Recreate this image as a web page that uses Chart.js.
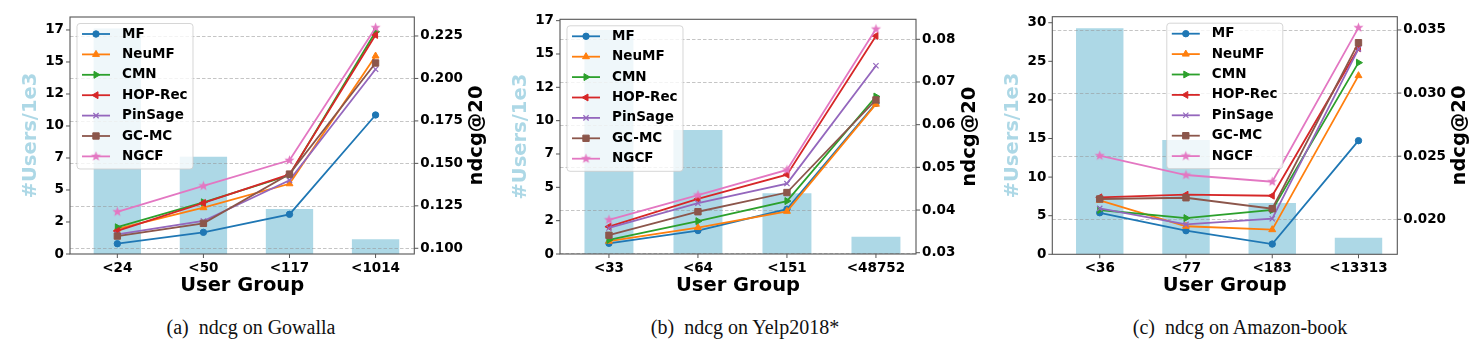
<!DOCTYPE html>
<html>
<head>
<meta charset="utf-8">
<script src="https://cdn.jsdelivr.net/npm/chart.js@4.4.1/dist/chart.umd.min.js"></script>
<style>
  body { margin: 0; background: #fff; width: 1481px; height: 349px; position: relative; overflow: hidden; }
  canvas { position: absolute; top: 0; }
  .cap { position: absolute; top: 316px; font-family: "Liberation Serif", "DejaVu Serif", serif; font-size: 20px; color: #111;
         transform: translateX(-50%); white-space: pre; }
</style>
</head>
<body>
<canvas id="cGowalla" width="495" height="300" style="left:0px"></canvas>
<canvas id="cYelp" width="500" height="300" style="left:490px"></canvas>
<canvas id="cAmazon" width="491" height="300" style="left:990px"></canvas>
<div class="cap" style="left:251px">(a)  ndcg on Gowalla</div>
<div class="cap" style="left:745px">(b)  ndcg on Yelp2018*</div>
<div class="cap" style="left:1240px">(c)  ndcg on Amazon-book</div>

<script>
// ---- data ----
const methods = ['MF', 'NeuMF', 'CMN', 'HOP-Rec', 'PinSage', 'GC-MC', 'NGCF'];
const colors  = ['#1f77b4', '#ff7f0e', '#2ca02c', '#d62728', '#9467bd', '#8c564b', '#e377c2'];

// (a) Gowalla
const groupsGowalla = ['<24', '<50', '<117', '<1014'];
const usersGowalla  = [17.55, 7.57, 3.50, 1.15];              // #users / 1e3
const mfGowalla      = [0.1027, 0.1094, 0.1200, 0.1785];
const neumfGowalla   = [0.1114, 0.1239, 0.1380, 0.2132];
const cmnGowalla     = [0.1124, 0.1271, 0.1430, 0.2275];
const hopGowalla     = [0.1102, 0.1267, 0.1435, 0.2256];
const pinsageGowalla = [0.1082, 0.1161, 0.1400, 0.2054];
const gcmcGowalla    = [0.1072, 0.1147, 0.1437, 0.2091];
const ngcfGowalla    = [0.1215, 0.1367, 0.1518, 0.2299];
const leftTicksGowalla  = [0, 2.49, 4.98, 7.47, 9.96, 12.45, 14.94, 17.43];
const leftLabelsGowalla = ['0', '2', '5', '7', '10', '12', '15', '17'];
const rightTicksGowalla  = [0.100, 0.125, 0.150, 0.175, 0.200, 0.225];
const rightLabelsGowalla = ['0.100', '0.125', '0.150', '0.175', '0.200', '0.225'];

// (b) Yelp2018*
const groupsYelp = ['<33', '<64', '<151', '<48752'];
const usersYelp  = [16.6, 9.19, 4.50, 1.28];
const mfYelp      = [0.0322, 0.0352, 0.0402, 0.0650];
const neumfYelp   = [0.0327, 0.0359, 0.0397, 0.0648];
const cmnYelp     = [0.0330, 0.0374, 0.0421, 0.0666];
const hopYelp     = [0.0361, 0.0426, 0.0483, 0.0808];
const pinsageYelp = [0.0358, 0.0416, 0.0462, 0.0738];
const gcmcYelp    = [0.0341, 0.0396, 0.0441, 0.0658];
const ngcfYelp    = [0.0377, 0.0435, 0.0494, 0.0824];
const leftTicksYelp  = [0, 2.47, 4.94, 7.41, 9.88, 12.35, 14.82, 17.29];
const leftLabelsYelp = ['0', '2', '5', '7', '10', '12', '15', '17'];
const rightTicksYelp  = [0.03, 0.04, 0.05, 0.06, 0.07, 0.08];
const rightLabelsYelp = ['0.03', '0.04', '0.05', '0.06', '0.07', '0.08'];

// (c) Amazon-book
const groupsAmazon = ['<36', '<77', '<183', '<13313'];
const usersAmazon  = [29.27, 14.8, 6.65, 2.15];
const mfAmazon      = [0.02052, 0.01910, 0.01804, 0.02623];
const neumfAmazon   = [0.02151, 0.01945, 0.01918, 0.03138];
const cmnAmazon     = [0.02074, 0.02010, 0.02074, 0.03241];
const hopAmazon     = [0.02174, 0.02195, 0.02187, 0.03355];
const pinsageAmazon = [0.02087, 0.01960, 0.02005, 0.03350];
const gcmcAmazon    = [0.02161, 0.02171, 0.02084, 0.03399];
const ngcfAmazon    = [0.02504, 0.02351, 0.02298, 0.03518];
const leftTicksAmazon  = [0, 5, 10, 15, 20, 25, 30];
const leftLabelsAmazon = ['0', '5', '10', '15', '20', '25', '30'];
const rightTicksAmazon  = [0.020, 0.025, 0.030, 0.035];
const rightLabelsAmazon = ['0.020', '0.025', '0.030', '0.035'];

// ---- styling ----
const FONT = { family: 'DejaVu Sans', weight: 'bold', size: 13.5 };
const BAR_COLOR = '#ADD8E6';
const SPINE = '#555';
const TICK_LEN = 4;

// matplotlib-like filled star marker
function starMarker(color) {
  const c = document.createElement('canvas'); c.width = 13; c.height = 13;
  const g = c.getContext('2d');
  g.fillStyle = color; g.beginPath();
  for (let i = 0; i < 10; i++) {
    const r = i % 2 ? 2.2 : 5.3, a = -Math.PI / 2 + i * Math.PI / 5;
    g.lineTo(6.5 + r * Math.cos(a), 6.5 + r * Math.sin(a));
  }
  g.closePath(); g.fill();
  return c;
}
const markers = [
  { pointStyle: 'circle',   pointRadius: 3.2 },
  { pointStyle: 'triangle', pointRadius: 4 },
  { pointStyle: 'triangle', pointRadius: 4, pointRotation: 90 },
  { pointStyle: 'triangle', pointRadius: 4, pointRotation: -90 },
  { pointStyle: 'crossRot', pointRadius: 3.7, pointBorderWidth: 1.2 },
  { pointStyle: 'rect',     pointRadius: 4.5 },
  { pointStyle: starMarker(colors[6]), pointRadius: 4 },
];

const decor = {
  id: 'decor',
  // right-axis dashed grid sits on top of the bars but under the lines
  afterDatasetDraw(chart, args) {
    if (args.meta.type !== 'bar') return;
    const { ctx, chartArea: a } = chart, y1 = chart.scales.y1;
    ctx.save();
    ctx.strokeStyle = 'rgba(150,150,150,0.55)'; ctx.lineWidth = 1; ctx.setLineDash([3.5, 2]);
    y1.ticks.forEach(t => {
      const y = Math.round(y1.getPixelForValue(t.value)) + 0.5;
      ctx.beginPath(); ctx.moveTo(a.left, y); ctx.lineTo(a.right, y); ctx.stroke();
    });
    ctx.restore();
  },
  afterDraw(chart, args, o) {
    const { ctx, chartArea: a, scales } = chart;
    ctx.save();
    ctx.strokeStyle = SPINE; ctx.lineWidth = 1.1;
    ctx.strokeRect(a.left, a.top, a.right - a.left, a.bottom - a.top);

    // outward tick marks
    ctx.lineWidth = 1;
    ctx.beginPath();
    scales.x.ticks.forEach(t => { const x = scales.x.getPixelForValue(t.value); ctx.moveTo(x, a.bottom); ctx.lineTo(x, a.bottom + TICK_LEN); });
    scales.y.ticks.forEach(t => { const y = scales.y.getPixelForValue(t.value); ctx.moveTo(a.left - TICK_LEN, y); ctx.lineTo(a.left, y); });
    scales.y1.ticks.forEach(t => { const y = scales.y1.getPixelForValue(t.value); ctx.moveTo(a.right, y); ctx.lineTo(a.right + TICK_LEN, y); });
    ctx.stroke();

    // axis titles
    const cy = (a.top + a.bottom) / 2;
    ctx.font = 'bold 19.5px "DejaVu Sans"'; ctx.textAlign = 'center'; ctx.textBaseline = 'middle';
    ctx.fillStyle = BAR_COLOR;
    ctx.save(); ctx.translate(a.left - 39.5, cy); ctx.rotate(-Math.PI / 2); ctx.fillText('#Users/1e3', 0, 0); ctx.restore();
    ctx.fillStyle = '#000';
    ctx.save(); ctx.translate(a.right + o.rightTitleGap, cy); ctx.rotate(-Math.PI / 2); ctx.fillText('ndcg@20', 0, 0); ctx.restore();
    ctx.fillText('User Group', (a.left + a.right) / 2, a.bottom + 31.5);

    // legend box
    const w = 116, h = 145.5;
    const bx = o.legendCenter ? (a.left + a.right) / 2 - w / 2 : a.left + 7;
    const by = a.top + 6.5;
    ctx.beginPath(); ctx.roundRect(bx, by, w, h, 3);
    ctx.fillStyle = 'rgba(255,255,255,0.8)'; ctx.fill();
    ctx.strokeStyle = 'rgba(204,204,204,0.8)'; ctx.lineWidth = 1; ctx.stroke();
    ctx.font = 'bold 13.5px "DejaVu Sans"'; ctx.textAlign = 'left';
    chart.data.datasets.filter(d => d.type === 'line').forEach((d, i) => {
      const y = by + 10.5 + i * 20.4;
      ctx.strokeStyle = d.borderColor; ctx.fillStyle = d.borderColor; ctx.lineWidth = d.borderWidth;
      ctx.beginPath(); ctx.moveTo(bx + 5, y); ctx.lineTo(bx + 33, y); ctx.stroke();
      ctx.lineWidth = d.pointBorderWidth || 1;
      Chart.helpers.drawPoint(ctx, { pointStyle: d.pointStyle, radius: d.pointRadius, rotation: d.pointRotation || 0, borderWidth: d.pointBorderWidth || 1 }, bx + 19, y);
      ctx.fillStyle = '#000';
      ctx.fillText(d.label, bx + 45, y);
    });
    ctx.restore();
  }
};

function makeChart(id, p) {
  const datasets = [{
    type: 'bar', label: 'users', data: p.users.map((v, i) => ({ x: i, y: v })),
    backgroundColor: BAR_COLOR, borderWidth: 0, yAxisID: 'y',
    categoryPercentage: 0.55, barPercentage: 1, order: 100
  }];
  p.series.forEach((s, k) => datasets.push({
    type: 'line', label: methods[k], data: s.map((v, i) => ({ x: i, y: v })),
    borderColor: colors[k], backgroundColor: colors[k], borderWidth: 1.8,
    pointBorderWidth: 1, tension: 0, fill: false, yAxisID: 'y1', order: 10 - k,
    ...markers[k]
  }));

  // tick marks are drawn by the decor plugin, so keep Chart.js grids fully off
  const noGrid = { display: false, drawTicks: false, tickLength: 0 };
  const PAD = TICK_LEN + 2;
  new Chart(document.getElementById(id), {
    type: 'bar',
    data: { datasets },
    options: {
      responsive: false, animation: false, events: [],
      layout: { padding: { top: p.area.top, left: 0, right: 0, bottom: 0 } },
      plugins: { legend: { display: false }, tooltip: { enabled: false },
                 decor: { rightTitleGap: p.rightTitleGap, legendCenter: p.legendCenter } },
      scales: {
        x: {
          type: 'linear', min: -0.55, max: 3.45, offset: false,
          afterBuildTicks: s => { s.ticks = p.groups.map((_, i) => ({ value: i })); },
          ticks: { callback: (v, i) => p.groups[i], font: FONT, color: '#000', padding: PAD, autoSkip: false, maxRotation: 0 },
          grid: noGrid, border: { display: false },
          afterFit: s => { s.height = 300 - p.area.bottom; }
        },
        y: {
          position: 'left', min: 0, max: p.leftMax,
          afterBuildTicks: s => { s.ticks = p.leftTicks.map(v => ({ value: v })); },
          ticks: { callback: (v, i) => p.leftLabels[i], font: FONT, color: '#000', padding: PAD },
          grid: noGrid, border: { display: false },
          afterFit: s => { s.width = p.area.left; }
        },
        y1: {
          position: 'right', min: p.rightMin, max: p.rightMax,
          afterBuildTicks: s => { s.ticks = p.rightTicks.map(v => ({ value: v })); },
          ticks: { callback: (v, i) => p.rightLabels[i], font: FONT, color: '#000', padding: PAD },
          grid: noGrid, border: { display: false },
          afterFit: s => { s.width = p.area.right; }
        }
      }
    },
    plugins: [decor]
  });
}

// area: left/right = axis widths, top = plot top, bottom = plot bottom (canvas px)
makeChart('cGowalla', {
  groups: groupsGowalla, users: usersGowalla,
  series: [mfGowalla, neumfGowalla, cmnGowalla, hopGowalla, pinsageGowalla, gcmcGowalla, ngcfGowalla],
  leftMax: 18.44, leftTicks: leftTicksGowalla, leftLabels: leftLabelsGowalla,
  rightMin: 0.09664, rightMax: 0.23618, rightTicks: rightTicksGowalla, rightLabels: rightLabelsGowalla,
  area: { left: 70, right: 80.7, top: 17, bottom: 254 }, rightTitleGap: 62.4, legendCenter: false
});
makeChart('cYelp', {
  groups: groupsYelp, users: usersYelp,
  series: [mfYelp, neumfYelp, cmnYelp, hopYelp, pinsageYelp, gcmcYelp, ngcfYelp],
  leftMax: 17.39, leftTicks: leftTicksYelp, leftLabels: leftLabelsYelp,
  rightMin: 0.0297, rightMax: 0.08469, rightTicks: rightTicksYelp, rightLabels: rightLabelsYelp,
  area: { left: 70, right: 74, top: 19.3, bottom: 254 }, rightTitleGap: 54, legendCenter: false
});
makeChart('cAmazon', {
  groups: groupsAmazon, users: usersAmazon,
  series: [mfAmazon, neumfAmazon, cmnAmazon, hopAmazon, pinsageAmazon, gcmcAmazon, ngcfAmazon],
  leftMax: 30.78, leftTicks: leftTicksAmazon, leftLabels: leftLabelsAmazon,
  rightMin: 0.01723, rightMax: 0.03605, rightTicks: rightTicksAmazon, rightLabels: rightLabelsAmazon,
  area: { left: 62.3, right: 83.7, top: 16.7, bottom: 254.3 }, rightTitleGap: 62.7, legendCenter: true
});
</script>
</body>
</html>
